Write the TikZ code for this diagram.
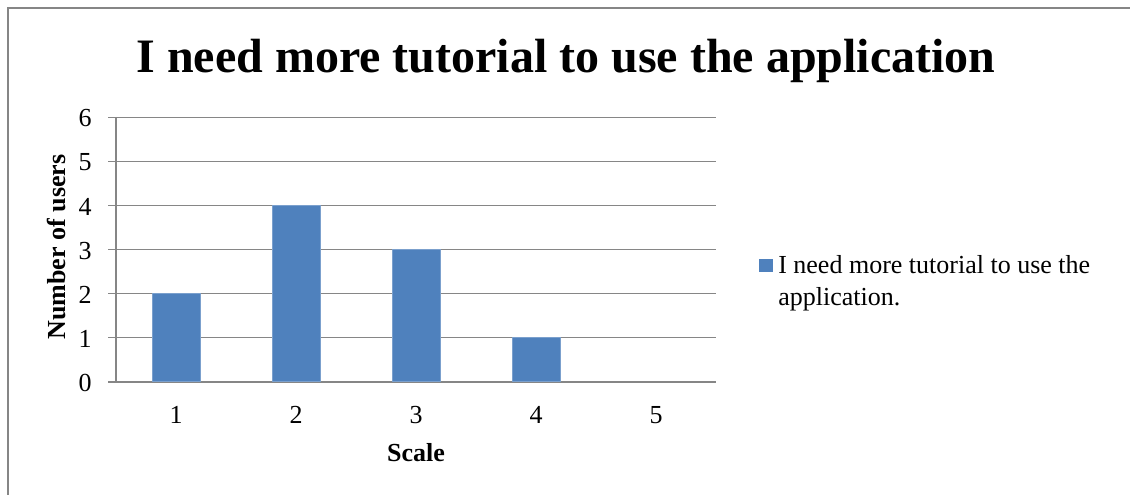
\documentclass[tikz,border=0pt]{standalone}
\usepackage{fontspec}
\setmainfont{Liberation Serif}
\definecolor{barblue}{HTML}{4F81BD}
\definecolor{chartgray}{HTML}{868686}
\begin{document}
\begin{tikzpicture}[x=0.75pt,y=-0.75pt,
  chartframe/.style={draw=chartgray,line width=1.5pt},
  gridline/.style={draw=chartgray,line width=1.1pt},
  axisline/.style={draw=chartgray,line width=1.5pt},
  barfill/.style={fill=barblue,draw=barblue!75!white,line width=0.6pt},
  lbl/.style={font=\fontsize{19.5}{24}\selectfont,inner sep=0pt},
  boldlbl/.style={font=\fontsize{19.5}{24}\selectfont\bfseries,inner sep=0pt},
  titletext/.style={font=\fontsize{36}{40}\selectfont\bfseries,inner sep=0pt}]
  \useasboundingbox (0,0) rectangle (1130,495);
  % outer chart frame (its right and bottom sides lie past the page)
  \draw[chartframe] (8,8) rectangle (1140,505);

  % title
  \node[titletext,anchor=base] (title) at (566,72.7) {I need more tutorial to use the application};

  % horizontal gridlines with their tick marks and value labels
  \foreach \k in {0,...,6}{
    \pgfmathsetmacro{\yy}{381.5-44*\k}
    \draw[gridline] (108,\yy) -- (716,\yy);
    \node[lbl,anchor=base east] (ylab\k) at (92,\yy+9.5) {\k};
  }
  % axes
  \coordinate (origin) at (116,381.5);
  \coordinate (ytop) at (116,117);
  \coordinate (xend) at (716,381.5);
  \draw[axisline] (ytop) -- (origin);
  \draw[axisline] (108,381.5) -- (xend);

  % bars and category labels
  \foreach \v [count=\i] in {2,4,3,1,0}{
    \pgfmathsetmacro{\cx}{116+120*\i-60}
    \ifnum\v>0
      \path[barfill] (\cx-24,381.5) rectangle (\cx+24,381.5-44*\v);
    \fi
    \node[lbl,anchor=base] (xlab\i) at (\cx,423) {\i};
  }

  % axis titles
  \node[boldlbl,anchor=base] (xtitle) at (416,461) {Scale};
  \node[boldlbl,anchor=base,rotate=90] (ytitle) at (65,247) {Number of users};

  % legend
  \node[fill=barblue,minimum width=10.5pt,minimum height=9.75pt,inner sep=0pt,anchor=north west] (legkey) at (759,259) {};
  \node[lbl,anchor=base west,align=left] (legtext) at (778,305.3) {I need more tutorial to use the\\application.};
\end{tikzpicture}
\end{document}
